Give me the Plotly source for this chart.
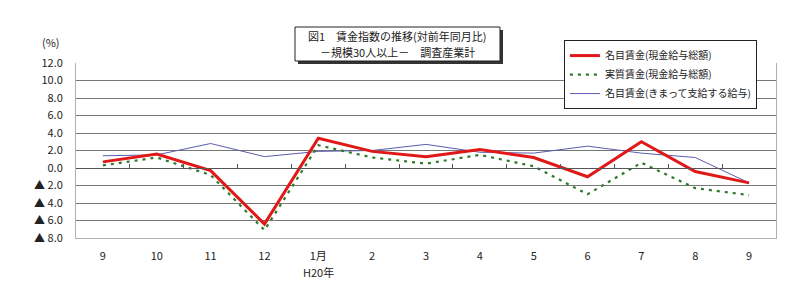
import plotly.graph_objects as go

months = ["9", "10", "11", "12", "1月", "2", "3", "4", "5", "6", "7", "8", "9"]
year_label = "H20年"
year_index = 4
nominal_total = [0.7, 1.6, -0.3, -6.4, 3.4, 1.9, 1.3, 2.1, 1.2, -1.0, 3.0, -0.4, -1.7]
real_total = [0.3, 1.2, -0.8, -7.1, 2.6, 1.2, 0.5, 1.5, 0.2, -3.0, 0.6, -2.3, -3.1]
nominal_regular = [1.4, 1.5, 2.8, 1.3, 1.9, 2.0, 2.7, 1.8, 1.7, 2.5, 1.7, 1.2, -1.7]

ytick_vals = [12, 10, 8, 6, 4, 2, 0, -2, -4, -6, -8]
ytick_text = ["12.0", "10.0", "8.0", "6.0", "4.0", "2.0", "0.0",
              "▲ 2.0", "▲ 4.0", "▲ 6.0", "▲ 8.0"]

names = ["名目賃金(現金給与総額)", "実質賃金(現金給与総額)", "名目賃金(きまって支給する給与)"]
title_lines = ["図1　賃金指数の推移(対前年同月比)", "－規模30人以上－　調査産業計"]

FONT = "Noto Sans CJK JP"
x = list(range(len(months)))

fig = go.Figure()
fig.add_trace(go.Scatter(x=x, y=nominal_regular, mode="lines", name=names[2],
                         line=dict(color="#5c5cb0", width=1), legendrank=3))
fig.add_trace(go.Scatter(x=x, y=real_total, mode="lines", name=names[1],
                         line=dict(color="#2a7a2a", width=2.2, dash="3px,5px"), legendrank=2))
fig.add_trace(go.Scatter(x=x, y=nominal_total, mode="lines", name=names[0],
                         line=dict(color="#e01818", width=3), legendrank=1))
# invisible trace to host the zero-line axis
fig.add_trace(go.Scatter(x=x, y=[None] * len(x), xaxis="x2", showlegend=False, hoverinfo="skip"))

grid = "#777777"
fig.update_layout(
    width=800, height=296,
    margin=dict(l=76, r=24, t=63, b=58),
    paper_bgcolor="white", plot_bgcolor="white",
    font=dict(family=FONT, size=11, color="#222"),
    xaxis=dict(range=[-0.5, len(x) - 0.5], tickmode="array", tickvals=x, ticktext=months,
               showgrid=False, zeroline=False, showline=True, linecolor="#b0b0b0",
               ticks="", tickfont=dict(size=11), ticklabelstandoff=8),
    xaxis2=dict(overlaying="x", anchor="free", position=(0 - ytick_vals[-1]) / (ytick_vals[0] - ytick_vals[-1]),
                range=[-0.5, len(x) - 0.5], tickmode="array",
                tickvals=[i - 0.5 for i in range(len(x) + 1)],
                showticklabels=False, ticks="inside", ticklen=4, tickcolor="#555",
                showline=True, linecolor="#555", showgrid=False, zeroline=False),
    yaxis=dict(range=[ytick_vals[-1], ytick_vals[0]], tickmode="array", tickvals=ytick_vals,
               ticktext=ytick_text, showgrid=True, gridcolor=grid, gridwidth=1,
               zeroline=False, showline=True, linecolor="#b0b0b0", mirror=True,
               ticks="", tickfont=dict(size=11), ticklabelstandoff=10),
    showlegend=True,
    legend=dict(x=0.697, y=1.131, xanchor="left", yanchor="top",
                bgcolor="white", bordercolor="#222", borderwidth=1,
                font=dict(size=10, family=FONT), tracegroupgap=0,
                itemwidth=30),
)

def px_x(p):
    return (p - 76) / 700

def px_y(p):
    return (238 - p) / 175

# title box with shadow
fig.add_shape(type="rect", xref="paper", yref="paper",
              x0=px_x(298), x1=px_x(503), y0=px_y(64), y1=px_y(30),
              fillcolor="#333", line=dict(width=0), layer="above")
fig.add_shape(type="rect", xref="paper", yref="paper",
              x0=px_x(295), x1=px_x(500), y0=px_y(61), y1=px_y(27),
              fillcolor="white", line=dict(width=1, color="#222"), layer="above")
for line_text, py in zip(title_lines, [36, 52]):
    fig.add_annotation(xref="paper", yref="paper", x=px_x(397), y=px_y(py),
                       xanchor="center", yanchor="middle", showarrow=False,
                       text=line_text, font=dict(size=11, family=FONT, color="#222"))
fig.add_annotation(xref="paper", yref="paper", x=px_x(62), y=px_y(42),
                   xanchor="right", yanchor="middle", showarrow=False,
                   text="(%)", font=dict(size=11, family=FONT, color="#222"))
fig.add_annotation(xref="x", yref="paper", x=year_index, y=px_y(272),
                   xanchor="center", yanchor="middle", showarrow=False,
                   text=year_label, font=dict(size=11, family=FONT, color="#222"))

fig.write_html("out.html")
